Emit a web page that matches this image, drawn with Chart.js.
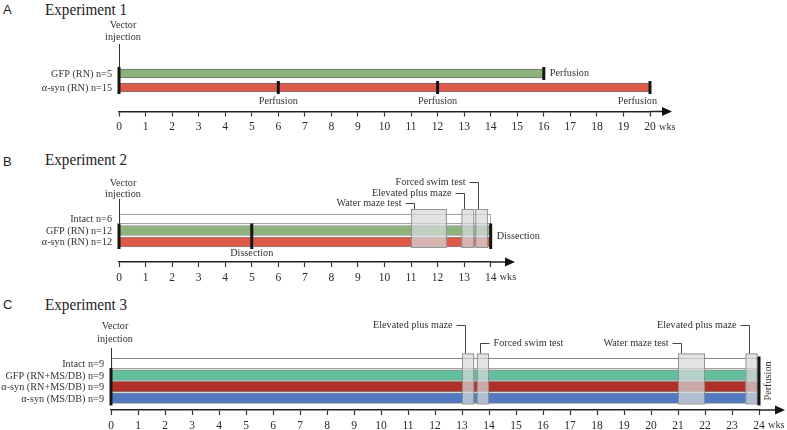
<!DOCTYPE html>
<html>
<head>
<meta charset="utf-8">
<script src="https://cdn.jsdelivr.net/npm/chart.js@4.4.1/dist/chart.umd.min.js"></script>
<style>
    body { margin: 0; background: #fff; width: 787px; height: 430px; position: relative; overflow: hidden; }
    .panel { position: absolute; left: 0; width: 787px; }
    .tag { position: absolute; left: 3px; font: 13px "Liberation Sans", Arial, sans-serif; color: #222; line-height: 18px; }
    .title { position: absolute; left: 45px; font: 16.5px "Liberation Serif", serif; color: #222; line-height: 20px;
             transform: scaleX(0.92); transform-origin: left center; white-space: nowrap; }
</style>
</head>
<body>
<div class="tag" style="top:1px">A</div><div class="title" style="top:0px">Experiment 1</div>
<div class="tag" style="top:153px">B</div><div class="title" style="top:150px">Experiment 2</div>
<div class="tag" style="top:296px">C</div><div class="title" style="top:295px">Experiment 3</div>
<div class="panel" style="top:0;height:140px"><canvas id="chartA"></canvas></div>
<div class="panel" style="top:140px;height:150px"><canvas id="chartB"></canvas></div>
<div class="panel" style="top:290px;height:140px"><canvas id="chartC"></canvas></div>
<script>
// Experiment 1
const groupsA = ['GFP (RN) n=5', 'α-syn (RN) n=15'];
const startA = [0, 0];
const endA = [16, 20];
const perfusionWeeksA = [6, 12, 16, 20];
const perfusionRowsA = [1, 1, 0, 1];

// Experiment 2
const groupsB = ['Intact n=6', 'GFP (RN) n=12', 'α-syn (RN) n=12'];
const startB = [0, 0, 0];
const endB = [14, 14, 14];
const dissectionWeeksB = [5, 14];
const testsB = ['Water maze test', 'Elevated plus maze', 'Forced swim test'];
const testStartB = [11, 12.9, 13.42];
const testEndB = [12.35, 13.38, 13.9];

// Experiment 3
const groupsC = ['Intact n=9', 'GFP (RN+MS/DB) n=9', 'α-syn (RN+MS/DB) n=9', 'α-syn (MS/DB) n=9'];
const startC = [0, 0, 0, 0];
const endC = [24, 24, 24, 24];
const perfusionWeeksC = [24];
const testsC = ['Elevated plus maze', 'Forced swim test', 'Water maze test', 'Elevated plus maze'];
const testStartC = [13, 13.55, 21, 23.5];
const testEndC = [13.45, 14, 22, 23.95];

const unitLabel = 'wks';
const serif = '"Liberation Serif", "Times New Roman", serif';
const squeeze = 0.93;

// Layout of each panel (page pixels)
const panels = [
    {
        id: 'chartA', canvasTop: 0, height: 140, x0: 119, x1: 650, top: 45, axisY: 111.5,
        firstRow: 73.5, rowPx: 14, barPx: 9, maxWeek: 20, arrowTip: 672, noteGap: 9,
        groups: groupsA, starts: startA, ends: endA,
        colors: ['#8db37b', '#dd5a48'], edge: '#727272',
        startRows: [0, 1], vectorY: [25, 37], vectorTop: 44,
        marks: perfusionWeeksA.map((w, i) => ({ week: w, from: perfusionRowsA[i], to: perfusionRowsA[i] })),
        notes: perfusionWeeksA.map((w, i) => ({ text: 'Perfusion', week: w, row: perfusionRowsA[i],
            place: ['below', 'below', 'right', 'belowEnd'][i] })),
        tests: []
    },
    {
        id: 'chartB', canvasTop: 140, height: 150, x0: 119, x1: 490.7, top: 205, axisY: 262,
        firstRow: 219, rowPx: 11.5, barPx: 10, maxWeek: 14, arrowTip: 515, noteGap: 6.5,
        groups: groupsB, starts: startB, ends: endB,
        colors: ['#ffffff', '#8db37b', '#dd5a48'], edge: '#858585',
        startRows: [1, 2], vectorY: [183, 194.5], vectorTop: 199,
        marks: dissectionWeeksB.map(w => ({ week: w, from: 1, to: 2 })),
        notes: [
            { text: 'Dissection', week: dissectionWeeksB[0], row: 2, place: 'below' },
            { text: 'Dissection', week: dissectionWeeksB[1], row: 1.5, place: 'right' }
        ],
        tests: testsB.map((t, i) => ({ text: t, start: testStartB[i], end: testEndB[i],
            y: [202.5, 192.7, 182.3][i], side: 'left' }))
    },
    {
        id: 'chartC', canvasTop: 290, height: 140, x0: 111, x1: 759, top: 350, axisY: 410,
        firstRow: 363.7, rowPx: 11.5, barPx: 10.5, maxWeek: 24, arrowTip: 785, noteGap: 9,
        groups: groupsC, starts: startC, ends: endC,
        colors: ['#ffffff', '#62bf9b', '#b03028', '#5079c2'], edge: '#858585',
        startRows: [1, 3], vectorY: [326.5, 339], vectorTop: 348,
        marks: perfusionWeeksC.map(w => ({ week: w, from: 0, to: 3 })),
        notes: [{ text: 'Perfusion', week: perfusionWeeksC[0], row: 1.5, place: 'vertical' }],
        tests: testsC.map((t, i) => ({ text: t, start: testStartC[i], end: testEndC[i],
            y: [325, 343, 343, 325][i], side: ['left', 'right', 'left', 'left'][i] }))
    }
];

// Slightly narrow text, like the original figure
function label(ctx, s, x, y, align, angle) {
    ctx.save();
    ctx.translate(x, y);
    if (angle) ctx.rotate(angle);
    ctx.scale(squeeze, 1);
    ctx.textAlign = align;
    ctx.fillText(s, 0, 0);
    ctx.restore();
}

// Draw annotations through the chart scales
function drawPanel(chart, p) {
    const ctx = chart.ctx;
    const xs = chart.scales.x;
    const ys = chart.scales.y;
    const area = chart.chartArea;
    const off = p.canvasTop;
    const X = w => xs.getPixelForValue(w);
    const Y = r => ys.getPixelForValue(r);
    const half = p.barPx / 2;
    const last = p.groups.length - 1;

    ctx.save();
    ctx.font = '11px ' + serif;
    ctx.fillStyle = '#333';
    ctx.textBaseline = 'middle';

    // group labels
    p.groups.forEach((g, i) => label(ctx, g, X(0) - 7, Y(i) + 0.5, 'right'));

    // behavioural test windows
    const bt = Y(0) - half - 5;
    const bb = Y(last) + half + 1;
    p.tests.forEach(t => {
        const a = X(t.start), b = X(t.end);
        ctx.fillStyle = 'rgba(214,216,219,0.72)';
        ctx.fillRect(a, bt, b - a, bb - bt);
        ctx.strokeStyle = 'rgba(135,135,135,0.85)';
        ctx.lineWidth = 1;
        ctx.strokeRect(a + 0.5, bt + 0.5, b - a - 1, bb - bt - 1);
        const lx = Math.round(a + 3) + 0.5;
        const ly = Math.round(t.y - off) + 0.5;
        ctx.strokeStyle = '#444';
        ctx.beginPath();
        ctx.moveTo(lx, bt);
        ctx.lineTo(lx, ly);
        ctx.lineTo(t.side === 'left' ? lx - 9 : lx + 9, ly);
        ctx.stroke();
        ctx.fillStyle = '#333';
        if (t.side === 'left') label(ctx, t.text, lx - 13, ly, 'right');
        else label(ctx, t.text, lx + 13, ly, 'left');
    });

    // vector injection
    const x0 = X(0);
    const markTop = Y(p.startRows[0]) - half - 2;
    ctx.strokeStyle = '#333';
    ctx.lineWidth = 1;
    ctx.beginPath();
    ctx.moveTo(x0 + 0.5, p.vectorTop - off);
    ctx.lineTo(x0 + 0.5, markTop);
    ctx.stroke();
    ctx.fillStyle = '#333';
    label(ctx, 'Vector', x0 + 4, p.vectorY[0] - off, 'center');
    label(ctx, 'injection', x0 + 4, p.vectorY[1] - off, 'center');

    // thick event markers
    ctx.fillStyle = '#151515';
    const marks = [{ week: 0, from: p.startRows[0], to: p.startRows[1] }].concat(p.marks);
    marks.forEach(m => {
        const top = Y(m.from) - half - 2;
        const bot = Y(m.to) + half + 2;
        ctx.fillRect(X(m.week) - 1.5, top, 3, bot - top);
    });

    // event notes
    ctx.fillStyle = '#333';
    p.notes.forEach(n => {
        const x = X(n.week);
        if (n.place === 'below') {
            label(ctx, n.text, x, Y(n.row) + half + p.noteGap, 'center');
        } else if (n.place === 'belowEnd') {
            label(ctx, n.text, x + 7, Y(n.row) + half + p.noteGap, 'right');
        } else if (n.place === 'right') {
            label(ctx, n.text, x + 6, Y(n.row), 'left');
        } else {
            label(ctx, n.text, x + 9, Y(n.row), 'center', -Math.PI / 2);
        }
    });

    // axis arrow and unit
    const ay = area.bottom;
    ctx.strokeStyle = '#222';
    ctx.lineWidth = 1.5;
    ctx.beginPath();
    ctx.moveTo(area.right, ay);
    ctx.lineTo(p.arrowTip - 6, ay);
    ctx.stroke();
    ctx.fillStyle = '#111';
    ctx.beginPath();
    ctx.moveTo(p.arrowTip, ay);
    ctx.lineTo(p.arrowTip - 10, ay - 4.5);
    ctx.lineTo(p.arrowTip - 10, ay + 4.5);
    ctx.closePath();
    ctx.fill();
    ctx.fillStyle = '#333';
    label(ctx, unitLabel, X(p.maxWeek) + 9, ay + 15.6, 'left');
    ctx.restore();
}

function makeChart(p) {
    const yMin = -(p.firstRow - p.top) / p.rowPx;
    const yMax = yMin + (p.axisY - p.top) / p.rowPx;
    return new Chart(document.getElementById(p.id), {
        type: 'bar',
        data: {
            datasets: [{
                data: p.groups.map((g, i) => ({ x: [p.starts[i], p.ends[i]], y: i })),
                backgroundColor: p.colors,
                borderColor: p.edge,
                borderWidth: 1,
                borderSkipped: false,
                barThickness: p.barPx
            }]
        },
        options: {
            indexAxis: 'y',
            responsive: true,
            maintainAspectRatio: false,
            animation: false,
            events: [],
            layout: {
                padding: {
                    left: p.x0,
                    right: 787 - p.x1,
                    top: p.top - p.canvasTop,
                    bottom: p.height - (p.axisY - p.canvasTop) - 20
                }
            },
            plugins: { legend: { display: false }, tooltip: { enabled: false } },
            scales: {
                x: {
                    type: 'linear',
                    min: 0,
                    max: p.maxWeek,
                    afterFit: s => { s.height = 20; },
                    ticks: {
                        stepSize: 1, maxTicksLimit: 40, autoSkip: false, maxRotation: 0,
                        padding: 4, color: '#2a2a2a', font: { family: serif, size: 11.5 }
                    },
                    grid: { drawOnChartArea: false, tickLength: 5, tickWidth: 1.2, color: '#333' },
                    border: { display: true, color: '#222', width: 1.5 }
                },
                y: {
                    type: 'linear', reverse: true, display: false,
                    offset: false, bounds: 'data', grid: { offset: false },
                    min: yMin, max: yMax,
                    afterDataLimits: s => { s.min = yMin; s.max = yMax; }
                }
            }
        },
        plugins: [{ id: 'timeline', afterDatasetsDraw: c => drawPanel(c, p) }]
    });
}

panels.forEach(makeChart);
</script>
</body>
</html>
